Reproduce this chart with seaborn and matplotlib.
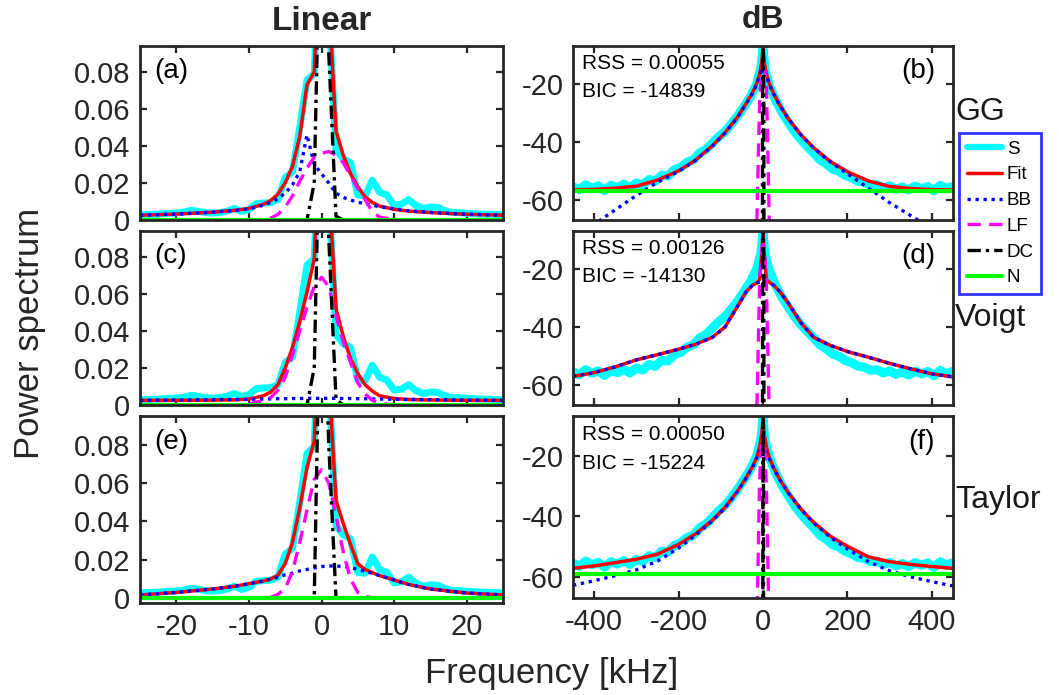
import numpy as np
import pandas as pd
import seaborn as sns
import matplotlib.pyplot as plt
from matplotlib.lines import Line2D

sns.set_style("ticks")
plt.rcParams['font.family'] = ['Liberation Sans', 'DejaVu Sans']
plt.rcParams['axes.unicode_minus'] = False

# ---------------- linear panels (kHz, power) ----------------
s_x_lin = [-25, -24, -23, -22, -21, -20, -19, -18, -17, -16, -15, -14, -13, -12, -11, -10,
           -9, -8, -7, -6, -5, -4, -3, -2, -1, 0, 1, 2, 3, 4, 5, 6, 7, 8, 9, 10,
           11, 12, 13, 14, 15, 16, 17, 18, 19, 20, 21, 22, 23, 24, 25]
s_lin = [0.0028, 0.0030, 0.0031, 0.0033, 0.0036, 0.0038, 0.0042, 0.0052, 0.0047, 0.0040,
         0.0037, 0.0040, 0.0048, 0.0062, 0.0046, 0.0056, 0.0088, 0.0092, 0.0094, 0.0110,
         0.0230, 0.0260, 0.0500, 0.0755, 0.0790, 0.1780, 0.1150, 0.0380, 0.0330, 0.0310,
         0.0135, 0.0130, 0.0215, 0.0150, 0.0135, 0.0080, 0.0085, 0.0110, 0.0078, 0.0062,
         0.0070, 0.0068, 0.0050, 0.0040, 0.0040, 0.0036, 0.0034, 0.0032, 0.0031, 0.0030, 0.0028]

fit_x_lin = [-25, -20, -15, -12, -10, -8, -7, -6, -5, -4, -3, -2, -1, 0,
             1, 2, 3, 4, 5, 6, 7, 8, 10, 12, 15, 20, 25]

fit_gg_lin = [0.0026, 0.0032, 0.0042, 0.0052, 0.0062, 0.0085, 0.0105, 0.0140, 0.0200, 0.0290,
              0.0450, 0.0730, 0.0800, 0.1750, 0.1200, 0.0480, 0.0350, 0.0250, 0.0180, 0.0125,
              0.0095, 0.0075, 0.0058, 0.0048, 0.0040, 0.0031, 0.0026]
bb_gg_lin = [0.0026, 0.0032, 0.0042, 0.0051, 0.0060, 0.0080, 0.0095, 0.0115, 0.0145, 0.0190,
             0.0260, 0.0460, 0.0300, 0.0250, 0.0200, 0.0145, 0.0122, 0.0108, 0.0096, 0.0088,
             0.0080, 0.0072, 0.0060, 0.0050, 0.0041, 0.0031, 0.0026]
lf_gg_lin = [0, 0, 0, 0, 0.0001, 0.0003, 0.0010, 0.0030, 0.0070, 0.0130, 0.0210, 0.0280,
             0.0340, 0.0360, 0.0370, 0.0350, 0.0310, 0.0240, 0.0170, 0.0110, 0.0045, 0.0015,
             0.0003, 0, 0, 0, 0]

fit_vo_lin = [0.0025, 0.0025, 0.0026, 0.0028, 0.0032, 0.0050, 0.0070, 0.0110, 0.0200, 0.0310,
              0.0450, 0.0610, 0.0790, 0.1750, 0.1200, 0.0520, 0.0370, 0.0250, 0.0170, 0.0110,
              0.0075, 0.0050, 0.0035, 0.0030, 0.0027, 0.0025, 0.0025]
bb_vo_lin = [0.0025, 0.0027, 0.0029, 0.0030, 0.0031, 0.0032, 0.0033, 0.0034, 0.0034, 0.0035,
             0.0035, 0.0036, 0.0036, 0.0036, 0.0036, 0.0036, 0.0035, 0.0035, 0.0034, 0.0034,
             0.0033, 0.0032, 0.0031, 0.0030, 0.0029, 0.0027, 0.0025]
lf_vo_lin = [0, 0, 0, 0, 0.0005, 0.0025, 0.0040, 0.0080, 0.0150, 0.0270, 0.0400, 0.0530,
             0.0640, 0.0690, 0.0640, 0.0480, 0.0340, 0.0230, 0.0120, 0.0060, 0.0025, 0.0010,
             0, 0, 0, 0, 0]

fit_ta_lin = [0.0017, 0.0030, 0.0048, 0.0062, 0.0076, 0.0090, 0.0100, 0.0120, 0.0180, 0.0290,
              0.0470, 0.0680, 0.0820, 0.1750, 0.1150, 0.0510, 0.0390, 0.0280, 0.0180, 0.0150,
              0.0133, 0.0118, 0.0095, 0.0072, 0.0048, 0.0027, 0.0017]
bb_ta_lin = [0.0017, 0.0030, 0.0048, 0.0062, 0.0075, 0.0090, 0.0100, 0.0110, 0.0122, 0.0130,
             0.0142, 0.0150, 0.0158, 0.0165, 0.0168, 0.0168, 0.0165, 0.0160, 0.0150, 0.0140,
             0.0130, 0.0118, 0.0095, 0.0072, 0.0048, 0.0027, 0.0017]
lf_ta_lin = [0, 0, 0, 0, 0, 0, 0.0005, 0.0020, 0.0050, 0.0140, 0.0290, 0.0460, 0.0620,
             0.0670, 0.0600, 0.0430, 0.0240, 0.0100, 0.0030, 0.0010, 0.0002, 0, 0, 0, 0, 0, 0]

dc_x = [-3, -2, -1, 0, 1, 2, 3]
dc_gg_lin = [0, 0, 0.020, 0.20, 0.090, 0.002, 0]
dc_vo_lin = [0, 0, 0.020, 0.20, 0.090, 0.003, 0]
dc_ta_lin = [0, 0, 0, 0.20, 0.080, 0, 0]

noise_lin = [2.0e-6, 1.0e-8, 1.3e-6]

# ---------------- dB panels ----------------
s_x_db = [-450, -435, -420, -405, -390, -375, -360, -345, -330, -315, -300, -285, -270, -255,
          -240, -225, -210, -195, -180, -165, -150, -135, -120, -105, -90, -75, -60, -45,
          -30, -15, -5, 0, 5, 15, 30, 45, 60, 75, 90, 105, 120, 135, 150, 165, 180, 195,
          210, 225, 240, 255, 270, 285, 300, 315, 330, 345, 360, 375, 390, 405, 420, 435, 450]
s_db = [-55.5, -56.5, -54.8, -56.0, -55.2, -56.8, -55.0, -55.8, -54.6, -55.9, -54.2, -54.9,
        -53.0, -53.6, -51.5, -51.8, -49.6, -48.8, -47.0, -46.2, -43.8, -42.6, -40.4, -38.2,
        -36.4, -33.8, -31.0, -27.8, -24.4, -20.0, -14.5, -7.6, -15.0, -20.5, -25.6, -29.8,
        -33.2, -36.5, -39.2, -41.6, -43.8, -46.2, -47.6, -49.4, -50.2, -51.6, -52.4, -53.6,
        -53.9, -55.0, -54.8, -55.9, -55.2, -56.4, -55.6, -56.6, -55.3, -56.2, -55.4, -56.9,
        -55.0, -56.2, -55.3]

fit_x_db = [-450, -400, -350, -300, -250, -200, -160, -120, -90, -60, -40, -25, -15, -8, -3, 0,
            3, 8, 15, 25, 40, 60, 90, 120, 160, 200, 250, 300, 350, 400, 450]

fit_gg_db = [-56.6, -56.4, -56.0, -55.3, -53.2, -50.0, -46.3, -41.3, -36.8, -31.3, -26.7, -23.0,
             -19.8, -16.5, -12.5, -7.6, -12.5, -16.5, -19.8, -23.2, -27.3, -32.0, -37.5, -42.0,
             -46.8, -50.3, -53.5, -55.4, -56.1, -56.5, -56.6]
bb_gg_db = [-74.0, -68.5, -63.5, -58.5, -54.0, -50.2, -46.4, -41.4, -36.9, -31.4, -26.8, -23.2,
            -20.0, -17.2, -15.4, -14.8, -15.4, -17.2, -20.1, -23.4, -27.5, -32.1, -37.6, -42.1,
            -47.0, -51.0, -56.0, -61.0, -65.5, -70.0, -75.0]

fit_vo_db = [-57.1, -55.8, -53.8, -51.4, -49.6, -47.7, -46.0, -43.6, -40.0, -32.8, -27.8, -25.6,
             -24.8, -23.5, -15.0, -7.6, -15.0, -23.5, -24.6, -25.5, -27.8, -31.8, -38.6, -43.6,
             -46.4, -48.5, -50.5, -52.6, -54.5, -56.2, -57.3]
bb_vo_db = [-57.1, -55.8, -53.8, -51.4, -49.6, -47.7, -46.0, -43.6, -40.0, -32.8, -27.8, -25.6,
            -24.8, -24.5, -24.3, -24.2, -24.3, -24.4, -24.6, -25.5, -27.8, -31.8, -38.6, -43.6,
            -46.4, -48.5, -50.5, -52.6, -54.5, -56.2, -57.3]

fit_ta_db = [-57.2, -56.4, -55.3, -54.2, -52.5, -49.3, -45.8, -41.3, -37.0, -31.6, -27.2, -23.6,
             -20.5, -17.0, -12.8, -7.8, -12.8, -17.0, -20.6, -23.8, -27.9, -32.2, -37.6, -42.0,
             -46.6, -49.9, -53.4, -55.0, -55.9, -56.6, -57.2]
bb_ta_db = [-62.8, -61.3, -59.6, -57.7, -54.8, -50.5, -46.3, -41.5, -37.2, -31.7, -27.3, -23.8,
            -20.8, -18.6, -17.9, -17.7, -17.9, -18.7, -21.0, -24.0, -28.0, -32.3, -37.7, -42.2,
            -47.0, -50.8, -55.0, -58.0, -60.0, -61.6, -63.0]

lf_x_db = [-30, -15, -8, -3, 0, 3, 8, 15, 30]
lf_gg_db = [-150, -70, -26, -15.5, -14.4, -14.3, -20, -68, -150]
lf_vo_db = [-150, -72, -25, -13.0, -11.6, -13.0, -25, -72, -150]
lf_ta_db = [-150, -80, -28, -13.5, -11.8, -13.8, -30, -80, -150]

dc_gg_db = [-200, -200, -13.5, -7.0, -10.5, -27, -200]
dc_vo_db = [-200, -200, -17.0, -7.0, -10.5, -25, -200]
dc_ta_db = [-200, -200, -200, -7.0, -11.0, -200, -200]

noise_db = [-57.0, -80.0, -58.9]

models = ["GG", "Voigt", "Taylor"]
stats_rss = ["0.00055", "0.00126", "0.00050"]
stats_bic = ["-14839", "-14130", "-15224"]
panel_tags = [("(a)", "(b)"), ("(c)", "(d)"), ("(e)", "(f)")]

lin_curves = [(fit_gg_lin, bb_gg_lin, lf_gg_lin, dc_gg_lin),
              (fit_vo_lin, bb_vo_lin, lf_vo_lin, dc_vo_lin),
              (fit_ta_lin, bb_ta_lin, lf_ta_lin, dc_ta_lin)]
db_curves = [(fit_gg_db, bb_gg_db, lf_gg_db, dc_gg_db),
             (fit_vo_db, bb_vo_db, lf_vo_db, dc_vo_db),
             (fit_ta_db, bb_ta_db, lf_ta_db, dc_ta_db)]

# line styles
C_S, C_FIT, C_BB, C_LF, C_DC, C_N = '#00FFFF', '#FF0000', '#0000FF', '#FF00FF', '#000000', '#00FF00'
styles = {
    'S': dict(color=C_S, lw=5.0, ls='-'),
    'Fit': dict(color=C_FIT, lw=2.5, ls='-'),
    'BB': dict(color=C_BB, lw=2.4, ls=(0, (1, 1.4))),
    'LF': dict(color=C_LF, lw=2.4, ls=(0, (4, 2.5))),
    'DC': dict(color=C_DC, lw=2.4, ls=(0, (4, 1.5, 1, 1.5))),
    'N': dict(color=C_N, lw=3.0, ls='-'),
}

W, H = 1059, 695
fig = plt.figure(figsize=(W / 100, H / 100), dpi=100)


def px_axes(x0, y0, x1, y1):
    return fig.add_axes([x0 / W, 1 - y1 / H, (x1 - x0) / W, (y1 - y0) / H])


def draw(ax, x, y, key, lw=None):
    st = styles[key]
    sns.lineplot(x=x, y=y, ax=ax, color=st['color'], linewidth=lw or st['lw'],
                 linestyle=st['ls'], estimator=None, sort=False, legend=False)


def style_axes(ax):
    for sp in ax.spines.values():
        sp.set_linewidth(2.0)
        sp.set_color('#262626')
        sp.set_visible(True)
    ax.tick_params(direction='in', top=True, right=True, length=5, width=1.6,
                   colors='#262626', labelsize=21, pad=7)
    ax.set_xlabel('')
    ax.set_ylabel('')


left_rows = [(46, 220), (231, 405), (416, 603)]
right_rows = [(46, 220), (231, 405), (416, 598)]
lin_ylims = [(0, 0.094), (0, 0.094), (-0.0025, 0.095)]

for i in range(3):
    fit, bb, lf, dc = lin_curves[i]
    ax = px_axes(140, left_rows[i][0], 503, left_rows[i][1])
    draw(ax, s_x_lin, s_lin, 'S')
    draw(ax, fit_x_lin, fit, 'Fit')
    draw(ax, fit_x_lin, bb, 'BB')
    draw(ax, fit_x_lin, lf, 'LF')
    draw(ax, dc_x, dc, 'DC')
    draw(ax, [-25, 25], [noise_lin[i], noise_lin[i]], 'N')
    ax.set_xlim(-25, 25)
    ax.set_ylim(*lin_ylims[i])
    ax.set_xticks([-20, -10, 0, 10, 20])
    ax.set_yticks([0, 0.02, 0.04, 0.06, 0.08])
    ax.set_yticklabels(['0', '0.02', '0.04', '0.06', '0.08'])
    if i < 2:
        ax.set_xticklabels([])
    style_axes(ax)
    ax.text(0.04, 0.93, panel_tags[i][0], transform=ax.transAxes, ha='left', va='top',
            fontsize=20, color='black')

    fit, bb, lf, dc = db_curves[i]
    ax = px_axes(573, right_rows[i][0], 953, right_rows[i][1])
    draw(ax, s_x_db, s_db, 'S', lw=6.5)
    draw(ax, fit_x_db, fit, 'Fit')
    draw(ax, fit_x_db, bb, 'BB')
    draw(ax, lf_x_db, lf, 'LF')
    draw(ax, dc_x, dc, 'DC')
    draw(ax, [-450, 450], [noise_db[i], noise_db[i]], 'N')
    ax.set_xlim(-450, 450)
    ax.set_ylim(-67, -6.8)
    ax.set_xticks([-400, -200, 0, 200, 400])
    ax.set_yticks([-60, -40, -20])
    if i < 2:
        ax.set_xticklabels([])
    style_axes(ax)
    ax.text(0.953, 0.93, panel_tags[i][1], transform=ax.transAxes, ha='right', va='top',
            fontsize=20, color='black')
    ax.text(0.024, 0.90, f"RSS = {stats_rss[i]}", transform=ax.transAxes, ha='left',
            va='center', fontsize=15, color='black')
    ax.text(0.024, 0.74, f"BIC = {stats_bic[i]}", transform=ax.transAxes, ha='left',
            va='center', fontsize=15, color='black')

# column titles, axis labels, model names
fig.text(322 / W, 1 - 22 / H, 'Linear', ha='center', va='center', fontsize=24, fontweight='bold')
fig.text(763 / W, 1 - 20 / H, 'dB', ha='center', va='center', fontsize=23, fontweight='bold')
fig.text(30 / W, 1 - 333 / H, 'Power spectrum', ha='center', va='center', rotation=90,
         fontsize=25, color='#262626')
fig.text(552 / W, 1 - 674 / H, 'Frequency [kHz]', ha='center', va='center', fontsize=25,
         color='#262626')
model_y = [112, 318, 500]
for name, yy in zip(models, model_y):
    fig.text(955 / W, 1 - yy / H, name, ha='left', va='center', fontsize=23, color='#1a1a1a')

handles = [Line2D([], [], color=styles[k]['color'], lw=styles[k]['lw'] if k != 'S' else 4.5,
                  ls=styles[k]['ls']) for k in ['S', 'Fit', 'BB', 'LF', 'DC', 'N']]
leg = fig.legend(handles, ['S', 'Fit', 'BB', 'LF', 'DC', 'N'], loc='upper left',
                 bbox_to_anchor=(959 / W, 1 - 133 / H), fontsize=13.5, frameon=True,
                 fancybox=False, handlelength=1.9, handletextpad=0.25, labelspacing=0.46,
                 borderpad=0.4, borderaxespad=0, labelcolor='black')
leg.get_frame().set_edgecolor('#0000FF')
leg.get_frame().set_linewidth(2.0)

fig.savefig('out.png', dpi=100)
